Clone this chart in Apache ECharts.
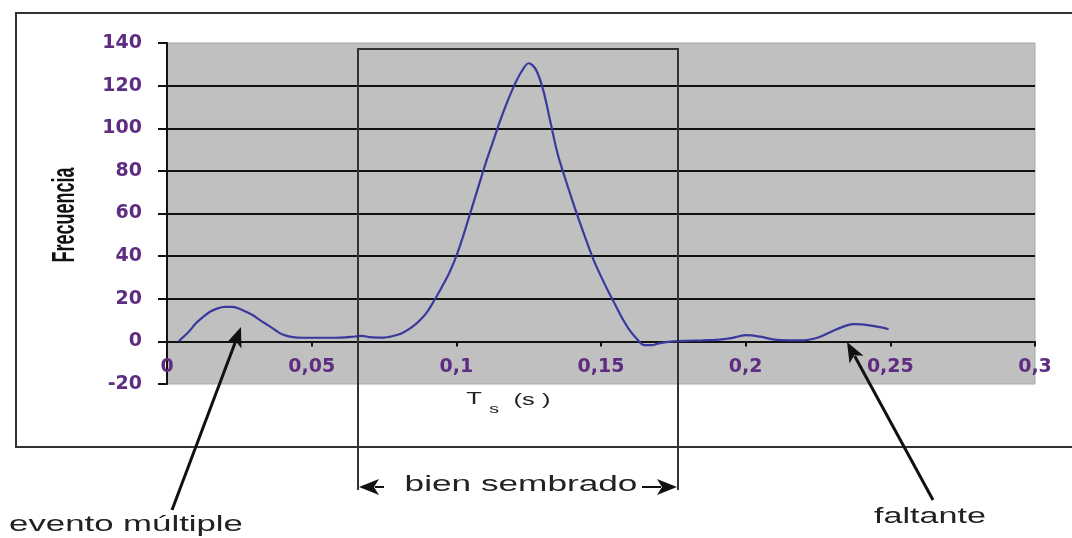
<!DOCTYPE html>
<html>
<head>
<meta charset="utf-8">
<script src="https://cdn.jsdelivr.net/npm/echarts@6/dist/echarts.min.js"></script>
<style>
html,body{margin:0;padding:0;background:#fff;}
#chart{width:1072px;height:538px;}
</style>
</head>
<body>
<div id="chart"></div>
<script>
// Data
var tValues = [0.004, 0.0075, 0.01, 0.0125, 0.015, 0.0175, 0.02, 0.0225, 0.025, 0.0275, 0.03, 0.0325, 0.035, 0.0375,
  0.04, 0.0425, 0.045, 0.05, 0.055, 0.06, 0.065, 0.0675, 0.07, 0.075, 0.08, 0.0825, 0.085, 0.0875, 0.09, 0.0925,
  0.095, 0.0975, 0.1, 0.1025, 0.105, 0.1075, 0.11, 0.1125, 0.115, 0.1175, 0.12, 0.1225, 0.125, 0.1275, 0.13,
  0.1325, 0.135, 0.1375, 0.14, 0.1425, 0.145, 0.1475, 0.15, 0.1525, 0.155, 0.1575, 0.16, 0.1625, 0.165, 0.1675,
  0.17, 0.175, 0.18, 0.185, 0.19, 0.195, 0.2, 0.205, 0.21, 0.215, 0.22, 0.225, 0.23, 0.235, 0.2375, 0.24, 0.245, 0.2494];
var freqValues = [0, 4.5, 8.5, 11.5, 14, 15.5, 16.2, 16.2, 15.3, 13.8, 12, 9.6, 7.5, 5.2,
  3.2, 2.2, 1.8, 1.7, 1.7, 1.8, 2.3, 2.6, 2, 1.8, 3.2, 4.8, 7, 10, 14, 19.5,
  25.5, 32, 40, 50, 61, 72, 83, 93, 103, 112, 120, 126.5, 130.5, 127.5, 118,
  103, 88, 77, 66.5, 56.5, 47, 38, 30.5, 23.5, 17, 10.5, 5, 1, -1.8, -1.8,
  -0.9, 0, 0.3, 0.5, 0.7, 1.5, 2.9, 2.2, 0.8, 0.5, 0.5, 1.8, 4.8, 7.5, 8.1, 8, 7, 5.7];
var xTicks = {min: 0, max: 0.3, interval: 0.05};
var yTicks = {min: -20, max: 140, interval: 20};
var yAxisTitle = 'Frecuencia';
var annotations = ['evento múltiple', 'bien sembrado', 'faltante'];

var seriesData = tValues.map(function (t, i) { return [t, freqValues[i]]; });

var chart = echarts.init(document.getElementById('chart'));
var labelStyle = {color: '#5e2d82', fontFamily: 'DejaVu Sans', fontWeight: 'bold', fontSize: 19};
var txtFont = "'Liberation Sans', Arial, sans-serif";

function arrow(x1, y1, x2, y2, w) {
  var dx = x2 - x1, dy = y2 - y1, L = Math.sqrt(dx * dx + dy * dy);
  var ux = dx / L, uy = dy / L, hl = 20, hw = 8;
  var bx = x2 - ux * hl, by = y2 - uy * hl;
  return [
    {type: 'line', shape: {x1: x1, y1: y1, x2: bx + ux * 4, y2: by + uy * 4}, style: {stroke: '#111', lineWidth: w}, z: 100},
    {type: 'polygon', shape: {points: [[x2, y2], [bx - uy * hw, by + ux * hw], [bx + ux * 5, by + uy * 5], [bx + uy * hw, by - ux * hw]]}, style: {fill: '#111'}, z: 100}
  ];
}
function stext(x, y, s, size, sx, extra) {
  var st = {text: s, fontSize: size, fontFamily: txtFont, fill: '#222', align: 'center', verticalAlign: 'middle'};
  if (extra) { for (var k in extra) st[k] = extra[k]; }
  return {type: 'text', x: x, y: y, scaleX: sx, scaleY: 1, style: st, z: 100};
}

var graphics = [];
// outer frame (extends past the right edge)
graphics.push({type: 'polyline', shape: {points: [[1080, 13], [16, 13], [16, 447], [1080, 447]]}, style: {stroke: '#333', lineWidth: 2, fill: null}, z: 0});
// bien sembrado box
graphics.push({type: 'polyline', shape: {points: [[358, 490], [358, 49], [678, 49], [678, 490]]}, style: {stroke: '#333', lineWidth: 2, fill: null}, z: 100});
graphics = graphics.concat(arrow(384, 487, 359, 487, 2));
graphics = graphics.concat(arrow(642, 487, 677, 487, 2));
graphics.push(stext(521, 485, annotations[1], 22, 1.6));
// evento multiple
graphics = graphics.concat(arrow(172, 510, 241, 327, 3));
graphics.push(stext(126, 525, annotations[0], 22, 1.58));
// faltante
graphics = graphics.concat(arrow(933, 500, 847, 342, 3));
graphics.push(stext(930, 517, annotations[2], 22, 1.55));
// x axis title T_s (s)
graphics.push(stext(474, 399, 'T', 17, 1.5));
graphics.push(stext(494, 409, 's', 13, 1.5));
graphics.push(stext(532, 400, '(s )', 17, 1.5));
// y axis title (condensed, rotated)
graphics.push({type: 'text', x: 65, y: 215, rotation: Math.PI / 2, scaleX: 1, scaleY: 1.75,
  style: {text: yAxisTitle, fontSize: 18, fontWeight: 'bold', fontFamily: txtFont, fill: '#111', align: 'center', verticalAlign: 'middle'}, z: 100});

chart.setOption({
  animation: false,
  backgroundColor: '#fff',
  grid: {left: 167, top: 43, width: 868, height: 341, show: true, backgroundColor: '#c0c0c0', borderWidth: 1, borderColor: '#a8a8a8', containLabel: false},
  xAxis: {
    type: 'value', min: xTicks.min, max: xTicks.max, interval: xTicks.interval,
    axisLine: {onZero: true, lineStyle: {color: '#111', width: 2}},
    axisTick: {show: true, length: 5, lineStyle: {color: '#111', width: 2}},
    axisLabel: Object.assign({margin: -26, formatter: function (v) { return String(+v.toFixed(2)).replace('.', ','); }}, labelStyle),
    splitLine: {show: false}
  },
  yAxis: {
    type: 'value', min: yTicks.min, max: yTicks.max, interval: yTicks.interval,
    axisLine: {show: true, lineStyle: {color: '#111', width: 2}},
    axisTick: {show: true, length: 9, lineStyle: {color: '#111', width: 2}},
    axisLabel: Object.assign({margin: 25}, labelStyle),
    splitLine: {show: true, lineStyle: {color: ['rgba(0,0,0,0)', '#111', '#111', '#111', '#111', '#111', '#111', '#111', 'rgba(0,0,0,0)'], width: 1.8}}
  },
  series: [{
    type: 'line', data: seriesData, smooth: 0.35, showSymbol: false,
    lineStyle: {color: '#3a3a9e', width: 2.2}, z: 5
  }],
  graphic: graphics
});
</script>
</body>
</html>
